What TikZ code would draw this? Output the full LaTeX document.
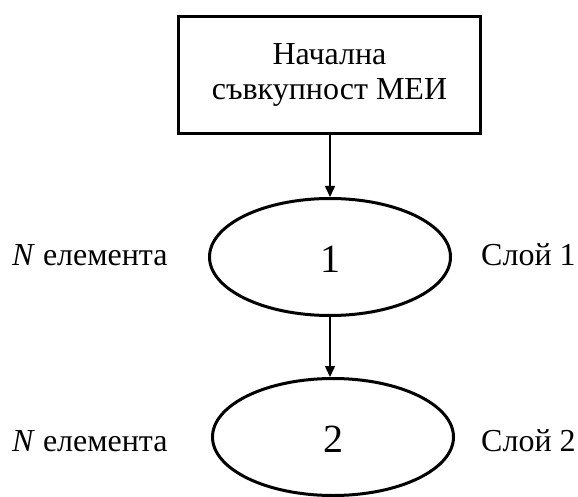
\documentclass[tikz,border=0pt]{standalone}
\usepackage{fontspec}
\setmainfont{Liberation Serif}
\usetikzlibrary{shapes.geometric,arrows.meta}
\newcommand{\dig}[1]{\raisebox{-15pt}[0pt][0pt]{#1}}
\begin{document}
\begin{tikzpicture}[x=1pt,y=-1pt,
  boxst/.style={draw,line width=3pt,minimum width=302pt,minimum height=117pt,inner sep=0pt,align=center,font=\fontsize{32}{35}\selectfont},
  ellst/.style={draw,ellipse,line width=3pt,minimum width=241pt,minimum height=117pt,inner sep=0pt,font=\fontsize{40}{40}\selectfont},
  lab/.style={inner sep=0pt,font=\fontsize{32}{32}\selectfont},
  arr/.style={line width=1.5pt,-{Triangle[length=11pt,width=10pt]}}]
\useasboundingbox (0,0) rectangle (578,497);
\node[boxst] (box) at (329.5,75) {Начална\\съвкупност МЕИ};
\node[ellst] (e1) at (330,257) {\dig{1}};
\node[ellst] (e2) at (333,437) {\dig{2}};
\node[lab,anchor=base west] (l1) at (12,265) {\textit{N} елемента};
\node[lab,anchor=base west] (r1) at (481,265) {Слой 1};
\node[lab,anchor=base west] (l2) at (12,451) {\textit{N} елемента};
\node[lab,anchor=base west] (r2) at (481,451) {Слой 2};
\draw[arr] (box.south -| e1.north) -- (e1.north);
\draw[arr] (e1.south) -- (e1.south |- e2.north);
\end{tikzpicture}
\end{document}
